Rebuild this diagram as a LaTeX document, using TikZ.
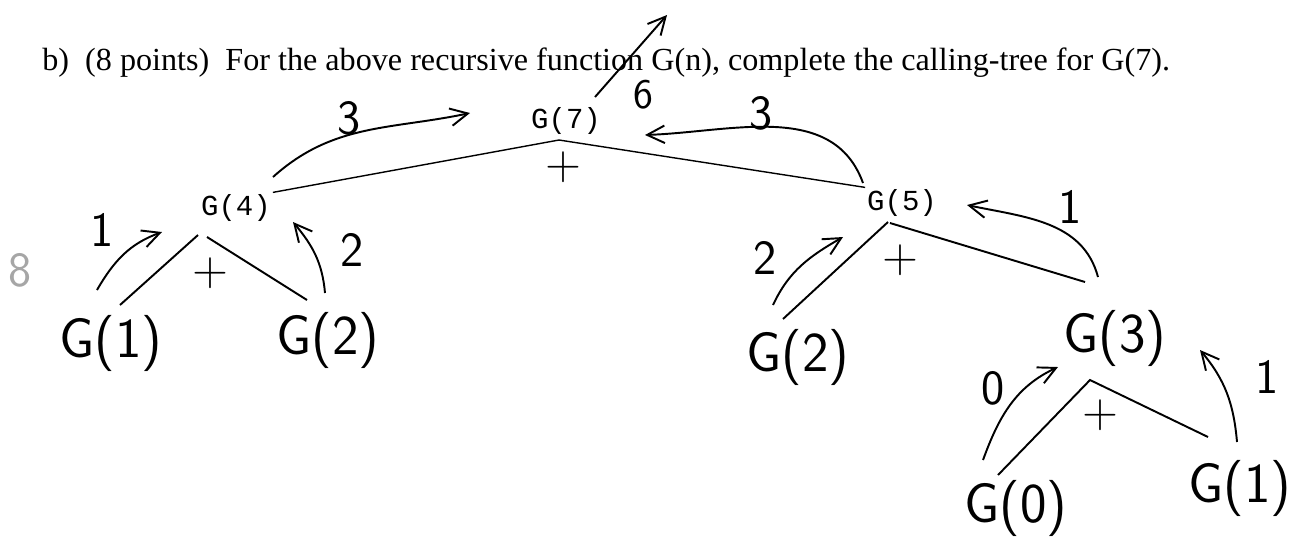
\documentclass[tikz,border=0pt]{standalone}
\usepackage{fontspec}
\setmainfont{Liberation Serif}
\setmonofont{Liberation Mono}
\usetikzlibrary{positioning, arrows.meta}

\begin{document}
\begin{tikzpicture}[x=0.02cm, y=-0.02cm,
      call/.style={font=\ttfamily\fontsize{16.5}{16.5}\selectfont, inner sep=1pt},
      hand/.style={font=\sffamily\fontsize{32}{32}\selectfont, inner sep=1pt},
      num/.style={font=\sffamily\fontsize{28}{28}\selectfont, inner sep=1pt},
      tline/.style={line width=0.8pt},
      hline/.style={line width=1.1pt},
      ret/.style={-{Straight Barb[length=3.5mm, width=3.5mm]}, line width=1.1pt}]
    \useasboundingbox (0,0) rectangle (1290,539);
    \node[anchor=base west, font=\fontsize{18.3}{18.3}\selectfont, inner sep=0pt] (title) at (42,70)
      {b)~~(8 points)~~For the above recursive function G(n), complete the calling-tree for G(7).};
    % typed part of the tree
    \node[call] (g7) at (566,121) {G(7)};
    \node[call] (g4) at (236,208) {G(4)};
    \node[call] (g5) at (902,203) {G(5)};
    \coordinate (g7b) at ([shift={(-7,19)}]g7.center);
    \draw[tline] (g4.north east) -- (g7b) -- (g5.north west);
    % handwritten calls
    \node[hand] (g41) at (111,343) {G(1)};
    \node[hand] (g42) at (328,340) {G(2)};
    \node[hand] (g52) at (798,357) {G(2)};
    \node[hand] (g53) at (1115,338) {G(3)};
    \node[hand] (g30) at (1016,508) {G(0)};
    \node[hand] (g31) at (1240,488) {G(1)};
    \coordinate (g41t) at ([shift={(9,-38)}]g41.center);
    \coordinate (g42t) at ([shift={(-21,-40)}]g42.center);
    \coordinate (g52t) at ([shift={(-15,-38)}]g52.center);
    \coordinate (g53t) at ([shift={(-30,-56)}]g53.center);
    \coordinate (g53b) at ([shift={(-25,42)}]g53.center);
    \coordinate (g30t) at ([shift={(-18,-33)}]g30.center);
    \coordinate (g31t) at ([shift={(-32,-51)}]g31.center);
    \draw[hline] ([shift={(-38,27)}]g4.center) -- (g41t);
    \draw[hline] ([shift={(-29,29)}]g4.center) -- (g42t);
    \draw[hline] ([shift={(-14,19)}]g5.center) -- (g52t);
    \draw[hline] ([shift={(-12,20)}]g5.center) -- (g53t);
    \draw[hline] (g30t) -- (g53b) -- (g31t);
    % plus signs
    \node[num] (p7) at (563,167) {+};
    \node[num] (p4) at (210,273) {+};
    \node[num] (p5) at (900,260) {+};
    \node[num] (p3) at (1100,415) {+};
    % returned values
    \coordinate (r43s) at (273,177);  \coordinate (r43e) at (470,113);
    \coordinate (r53s) at (863,183);  \coordinate (r53e) at (645,135);
    \coordinate (r76s) at (595,97);   \coordinate (r76e) at (667,15);
    \coordinate (r41s) at (97,290);   \coordinate (r41e) at (162,232);
    \coordinate (r42s) at (325,293);  \coordinate (r42e) at (293,222);
    \coordinate (r52s) at (773,305);  \coordinate (r52e) at (843,237);
    \coordinate (r531s) at (1098,277); \coordinate (r531e) at (967,205);
    \coordinate (r30s) at (983,460);  \coordinate (r30e) at (1058,367);
    \coordinate (r31s) at (1237,442); \coordinate (r31e) at (1200,350);
    \draw[ret] (r43s) to[out=42, in=192] (r43e);
    \draw[ret] (r53s) to[out=110, in=2] (r53e);
    \draw[ret] (r76s) -- (r76e);
    \draw[ret] (r41s) to[out=60, in=200] (r41e);
    \draw[ret] (r42s) to[out=95, in=-50] (r42e);
    \draw[ret] (r52s) to[out=65, in=210] (r52e);
    \draw[ret] (r531s) to[out=105, in=-12] (r531e);
    \draw[ret] (r30s) to[out=70, in=205] (r30e);
    \draw[ret] (r31s) to[out=95, in=-50] (r31e);
    \node[num] (n43) at (349,118) {3};
    \node[num] (n53) at (761,113) {3};
    \node[num, font=\sffamily\fontsize{24}{24}\selectfont] (n76) at (643,95) {6};
    \node[num] (n41) at (102,230) {1};
    \node[num] (n42) at (352,250) {2};
    \node[num] (n52) at (765,258) {2};
    \node[num] (n531) at (1070,207) {1};
    \node[num] (n30) at (993,388) {0};
    \node[num] (n31) at (1267,377) {1};
    % grader mark
    \node[num, text=gray!70] (mark) at (20,270) {8};
  \end{tikzpicture}
\end{document}
